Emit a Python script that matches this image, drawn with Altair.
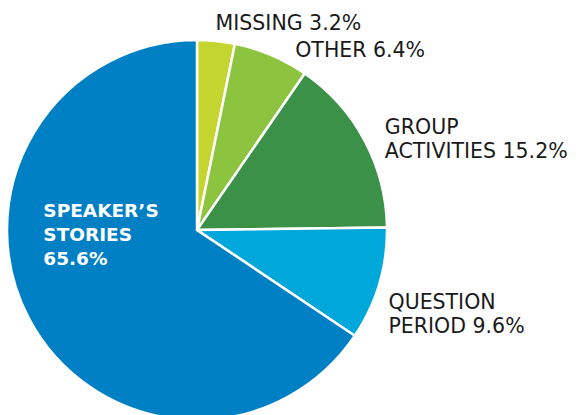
import altair as alt
import pandas as pd
import math

keys = ["missing", "other", "group", "question", "speaker"]
values = [3.2, 6.4, 15.2, 9.6, 65.6]
labels = ["MISSING 3.2%", "OTHER 6.4%", "GROUP\nACTIVITIES 15.2%",
          "QUESTION\nPERIOD 9.6%", "SPEAKER’S\nSTORIES\n65.6%"]
colors = ["#c4d52f", "#8cc43f", "#3a9147", "#00a7db", "#0080c4"]

df = pd.DataFrame({"key": keys, "value": values, "label": labels,
                   "order": list(range(len(keys)))})

CX, CY, R = 197, 230, 190
FONT = "DejaVu Sans"
theta_scale = alt.Scale(domain=[0, 100], range=[0, 2 * math.pi])

pie = alt.Chart(df).mark_arc(outerRadius=R, stroke="white", strokeWidth=2.5).encode(
    theta=alt.Theta("value:Q", stack=True, scale=theta_scale),
    color=alt.Color("key:N", scale=alt.Scale(domain=keys, range=colors), legend=None),
    order=alt.Order("order:Q"),
    x=alt.value(CX), y=alt.value(CY),
)

base = alt.Chart(df).transform_window(
    cum="sum(value)", sort=[alt.SortField("order")], frame=[None, 0]
).transform_calculate(mid="datum.cum - datum.value / 2")


def label_layer(key, radius, dx, dy, color="#1a1a1a", weight="normal", size=20.5):
    return base.transform_filter(alt.datum.key == key).mark_text(
        radius=radius, dx=dx, dy=dy, align="left", baseline="alphabetic",
        font=FONT, fontSize=size, fontWeight=weight, lineHeight=24,
        lineBreak="\n", color=color,
    ).encode(
        theta=alt.Theta("mid:Q", stack=None, scale=theta_scale),
        text="label:N",
        x=alt.value(CX), y=alt.value(CY),
    )


layers = [
    pie,
    label_layer("missing", 205, -2, 4),
    label_layer("other", 205, 18, 16),
    label_layer("group", 205, 7, 0),
    label_layer("question", 205, -5, 21),
    label_layer("speaker", 130, -39, -74, color="white", weight="bold", size=18.5),
]

chart = alt.layer(*layers).properties(
    width=581, height=415, padding=0,
    autosize=alt.AutoSizeParams(type="none"),
).configure_view(stroke=None)

chart.save("out.html", embed_options={"renderer": "svg", "actions": False})
